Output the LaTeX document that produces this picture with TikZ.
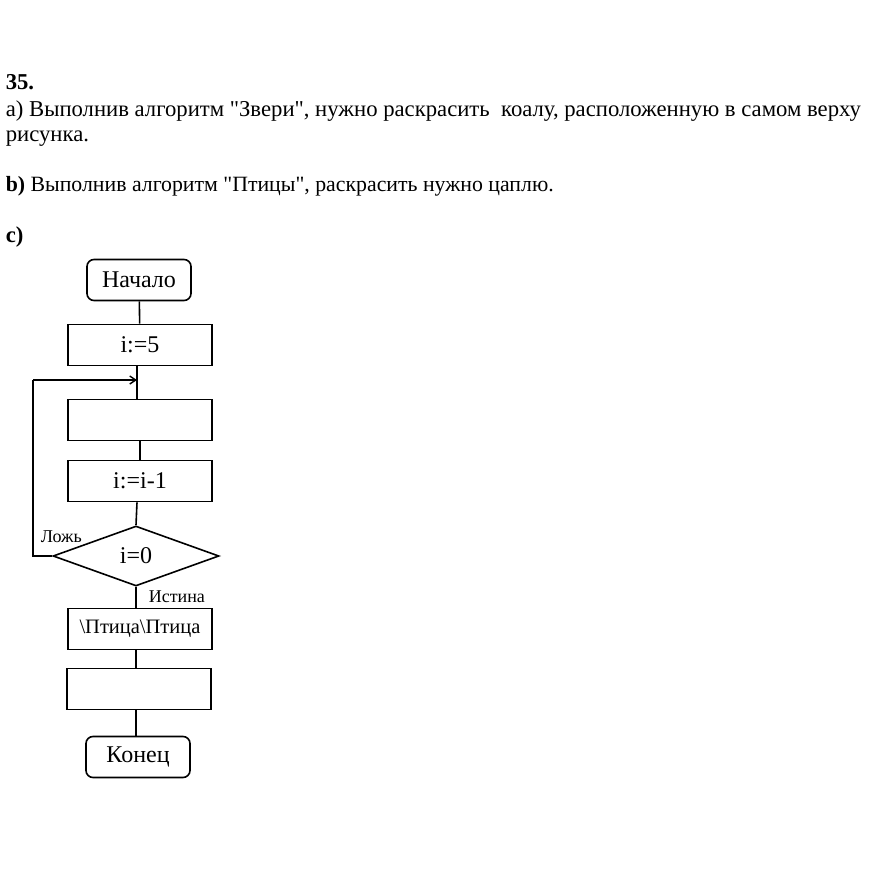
\documentclass[tikz,border=0pt]{standalone}
\usepackage{fontspec}
\setmainfont{Liberation Serif}[Ligatures=TeXOff]
\usetikzlibrary{shapes.geometric, arrows.meta, positioning}
\newcommand*{\txt}{\fontsize{22.7}{26}\selectfont}
\newcommand*{\bloktxt}{\fontsize{24}{28}\selectfont}

\begin{document}
\begin{tikzpicture}[x=1pt, y=-1pt, line width=1.6pt,
  blok/.style={draw, minimum width=144pt, minimum height=41pt, inner sep=0pt, font=\bloktxt},
  kraj/.style={draw, rounded corners=7pt, minimum width=104pt, minimum height=41pt, inner sep=0pt, font=\bloktxt},
  romb/.style={draw, diamond, aspect=2.77, minimum width=166pt, minimum height=60pt, inner sep=0pt, font=\bloktxt},
  stroka/.style={anchor=base west, inner sep=0pt, font=\txt},
  metka/.style={font=\fontsize{18}{20}\selectfont, inner sep=0pt}]
 \useasboundingbox (0,0) rectangle (869,874);

 \node[stroka] (n35) at (5,90) {\textbf{35.}};
 \node[stroka] (za) at (5,117) {a) Выполнив алгоритм "Звери", нужно раскрасить\ \ коалу, расположенную в самом верху};
 \node[stroka] (za2) at (5,142) {рисунка.};
 \node[stroka, font=\fontsize{21.8}{25}\selectfont] (zb) at (5,192) {\textbf{b)} Выполнив алгоритм "Птицы", раскрасить нужно цаплю.};
 \node[stroka] (zc) at (5,243) {\textbf{c)}};

 \node[kraj] (start) at (139,280) {Начало};
 \node[blok] (b1) at (140,345) {i:=5};
 \node[blok] (b2) at (140,420) {};
 \node[blok] (b3) at (140,481) {i:=i-1};
 \node[romb] (r1) at (136,556) {i=0};
 \node[blok, font=\fontsize{20.5}{24}\selectfont] (b4) at (140,629) {\textbackslash Птица\textbackslash Птица};
 \node[blok] (b5) at (139,689) {};
 \node[kraj] (stop) at (138,757) {Конец};

 \draw (start) -- (b1);
 \draw (b1.south -| 137,0) -- (137,400);
 \draw (b2) -- (b3);
 \draw (b3.south -| 137,0) -- (r1.north);
 \draw (r1.south) -- (136,609);
 \draw (b4.south -| 136,0) -- (136,669);
 \draw (b5.south -| 136,0) -- (136,737);
 \draw[line width=2.4pt] (r1.west) -- (33,556) -- (33,380) coordinate (ugol);
 \draw[line width=1.4pt, -{Straight Barb[length=6pt, width=8pt]}] (ugol) -- (137,380);

 \node[metka, anchor=south west] (lozh) at (40,543) {Ложь};
 \node[metka, anchor=south west] (ist) at (148,603) {Истина};
\end{tikzpicture}
\end{document}
